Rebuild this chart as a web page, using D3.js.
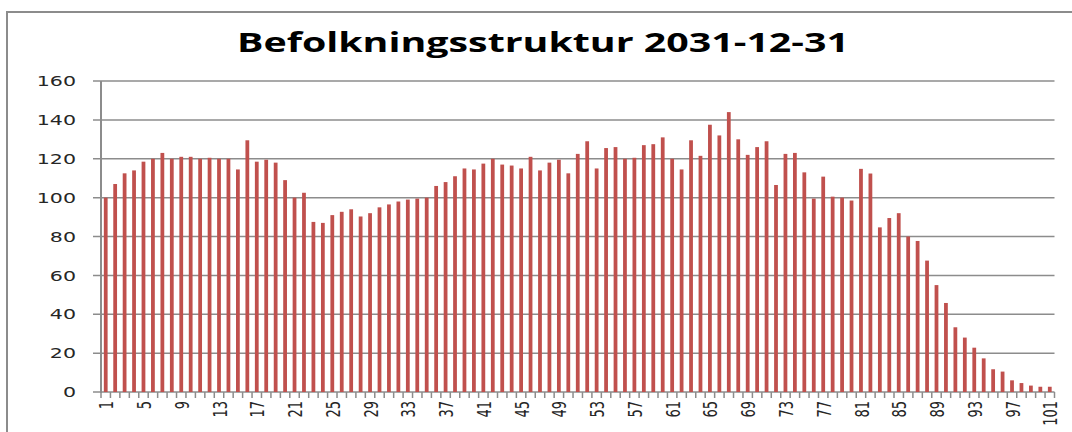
<!DOCTYPE html>
<html>
<head>
<meta charset="utf-8">
<script src="https://cdn.jsdelivr.net/npm/d3@7"></script>
<style>
  body { margin: 0; background: #fff; }
  .grid-line { stroke: #8c8c8c; stroke-width: 1.5; }
  .tick-label { font-family: "DejaVu Sans", sans-serif; fill: #262626; }
</style>
</head>
<body>
<svg id="chart" width="1072" height="432"></svg>
<script>
var title = "Befolkningsstruktur 2031-12-31";

// ages 1..101
var ages = d3.range(1, 102);

var population = [
  100, 107, 112.5, 114, 118.5, 120, 123, 120, 121, 121,
  120, 120.5, 120, 120, 114.5, 129.5, 118.5, 119.5, 118, 109,
  100, 102.5, 87.5, 87, 91, 92.7, 94, 90.3, 92, 95,
  96.5, 98, 99, 99.5, 100, 106, 108, 111, 115, 114.5,
  117.5, 120, 117, 116.5, 115, 121, 114, 118, 119.5, 112.5,
  122.5, 129, 115, 125.5, 126, 120, 120.5, 127, 127.5, 131,
  120, 114.5, 129.5, 121.5, 137.5, 132, 144, 130, 122, 126,
  129, 106.5, 122.5, 123, 113, 99.5, 110.8, 100.5, 100, 98.5,
  114.8, 112.4, 84.7, 89.5, 92, 80, 77.7, 67.6, 55, 45.8,
  33.3, 28, 22.8, 17.3, 11.7, 10.5, 6, 4.6, 3.3, 2.7,
  2.7
];

var yTicks = [0, 20, 40, 60, 80, 100, 120, 140, 160];
var xTickLabels = ages.filter(function(d) { return (d - 1) % 4 == 0; });

function drawChart() {
  var svg = d3.select("#chart");

  var pLeft = 101, pRight = 1054.5, pTop = 81, pBottom = 392;

  // outer chart frame (only left and top edges fall inside the window)
  svg.append("rect")
    .attr("x", 7).attr("y", 12)
    .attr("width", 1200).attr("height", 600)
    .attr("fill", "none")
    .attr("stroke", "#8c8c8c")
    .attr("stroke-width", 2);

  svg.append("text")
    .attr("x", 543)
    .attr("y", 52)
    .attr("text-anchor", "middle")
    .attr("textLength", 612)
    .attr("lengthAdjust", "spacingAndGlyphs")
    .style("font-family", "'Open Sans', sans-serif")
    .style("font-weight", "bold")
    .style("font-size", "26.5px")
    .attr("fill", "#000")
    .text(title);

  var x = d3.scaleBand()
    .domain(ages)
    .range([pLeft, pRight])
    .paddingInner(0.6)
    .paddingOuter(0.3);

  var xOuter = d3.scaleBand()
    .domain(ages)
    .range([pLeft, pRight]);

  var y = d3.scaleLinear()
    .domain([0, 160])
    .range([pBottom, pTop]);

  // horizontal grid lines + y ticks
  svg.append("g").selectAll("line")
    .data(yTicks)
  .enter().append("line")
    .attr("class", "grid-line")
    .attr("x1", pLeft - 8)
    .attr("x2", pRight)
    .attr("y1", function(d) { return y(d); })
    .attr("y2", function(d) { return y(d); });

  svg.append("g").selectAll("text")
    .data(yTicks)
  .enter().append("text")
    .attr("class", "tick-label")
    .attr("text-anchor", "end")
    .attr("dy", "0.36em")
    .style("font-size", "14.5px")
    .attr("transform", function(d) { return "translate(76," + y(d) + ") scale(1.42,1)"; })
    .text(function(d) { return d; });

  // bars
  svg.append("g").selectAll("rect")
    .data(population)
  .enter().append("rect")
    .attr("x", function(d, i) { return x(ages[i]); })
    .attr("width", x.bandwidth())
    .attr("y", function(d) { return y(d); })
    .attr("height", function(d) { return y(0) - y(d); })
    .attr("fill", "#c0504d");

  // y axis line
  svg.append("line")
    .attr("x1", pLeft).attr("x2", pLeft)
    .attr("y1", pTop).attr("y2", pBottom + 1)
    .attr("stroke", "#8c8c8c")
    .attr("stroke-width", 2);

  // x ticks at every category boundary
  var boundaries = ages.map(function(d) { return xOuter(d); }).concat([pRight]);
  svg.append("g").selectAll("line")
    .data(boundaries)
  .enter().append("line")
    .attr("x1", function(d) { return d; })
    .attr("x2", function(d) { return d; })
    .attr("y1", pBottom)
    .attr("y2", pBottom + 6)
    .attr("stroke", "#8c8c8c")
    .attr("stroke-width", 1.5);

  svg.append("g").selectAll("text")
    .data(xTickLabels)
  .enter().append("text")
    .attr("class", "tick-label")
    .attr("text-anchor", "end")
    .attr("dy", "0.4em")
    .style("font-size", "13px")
    .attr("transform", function(d) {
      return "translate(" + (xOuter(d) + xOuter.bandwidth() / 2) + ",401) scale(1.45,1) rotate(-90)";
    })
    .text(function(d) { return d; });
}

drawChart();
</script>
</body>
</html>
